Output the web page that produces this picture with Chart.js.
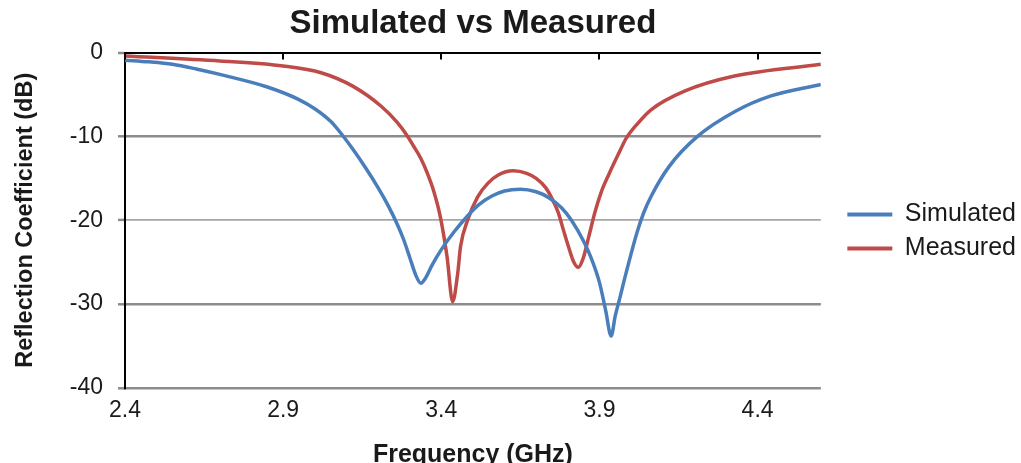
<!DOCTYPE html>
<html><head><meta charset="utf-8">
<script src="https://cdn.jsdelivr.net/npm/chart.js@4.4.0/dist/chart.umd.min.js"></script>
<style>html,body{margin:0;padding:0;background:#fff;}#wrap{width:1021px;height:463px;}</style>
</head><body><div id="wrap"><canvas id="c" width="1021" height="463"></canvas></div>
<script>
const seriesNames = ['Simulated', 'Measured'];
const simFreq = [2.40, 2.475, 2.55, 2.625, 2.70, 2.85, 2.95, 3.00, 3.05, 3.08, 3.12, 3.16, 3.20, 3.23, 3.26, 3.28, 3.30, 3.32, 3.335, 3.35, 3.37, 3.40, 3.44, 3.48, 3.52, 3.56, 3.60, 3.65, 3.70, 3.74, 3.78, 3.81, 3.85, 3.875, 3.90, 3.92, 3.937, 3.95, 3.965, 3.98, 4.00, 4.02, 4.04, 4.064, 4.12, 4.21, 4.33, 4.44, 4.60];
const simDb   = [-0.9, -1.1, -1.4, -1.95, -2.6, -4.1, -5.6, -6.7, -8.2, -9.5, -11.5, -13.7, -16.1, -18.1, -20.4, -22.2, -24.4, -26.6, -27.5, -26.9, -25.4, -23.5, -21.4, -19.6, -18.1, -17.1, -16.5, -16.3, -16.6, -17.3, -18.5, -19.9, -22.5, -24.6, -27.4, -30.8, -33.8, -31.4, -29.2, -26.9, -24.0, -21.3, -19.1, -17.1, -13.6, -10.0, -7.0, -5.2, -3.8];
const measFreq = [2.40, 2.70, 2.90, 3.02, 3.12, 3.21, 3.26, 3.29, 3.31, 3.335, 3.355, 3.375, 3.397, 3.418, 3.436, 3.452, 3.461, 3.484, 3.515, 3.547, 3.58, 3.627, 3.67, 3.70, 3.73, 3.75, 3.769, 3.788, 3.801, 3.818, 3.833, 3.848, 3.866, 3.886, 3.906, 3.93, 3.96, 3.985, 4.02, 4.064, 4.169, 4.327, 4.60];
const measDb   = [-0.4, -1.0, -1.6, -2.4, -4.0, -6.4, -8.3, -9.8, -11.0, -12.6, -14.3, -16.4, -19.6, -24.3, -29.7, -26.3, -23.1, -19.9, -17.2, -15.6, -14.6, -14.1, -14.4, -15.0, -16.1, -17.4, -19.0, -21.4, -23.0, -24.9, -25.6, -24.6, -22.0, -19.0, -16.6, -14.5, -12.1, -10.2, -8.5, -6.8, -4.6, -2.8, -1.4];
const xTickValues = [2.4, 2.9, 3.4, 3.9, 4.4];
const xTickLabels = ['2.4', '2.9', '3.4', '3.9', '4.4'];
const yTickValues = [-40, -30, -20, -10, 0];
const yTickLabels = ['-40', '-30', '-20', '-10', '0'];

const FONT = "'Liberation Sans', Arial, sans-serif";
const toPts = (xs, ys) => xs.map((x, i) => ({x: x, y: ys[i]}));

const topTicks = {
  id: 'topTicks',
  afterDraw(chart) {
    const ctx = chart.ctx, xs = chart.scales.x, top = chart.chartArea.top;
    ctx.save();
    ctx.strokeStyle = '#000';
    ctx.lineWidth = 2;
    xTickValues.forEach(v => {
      const px = Math.round(xs.getPixelForValue(v));
      ctx.beginPath();
      ctx.moveTo(px, top);
      ctx.lineTo(px, top + 7);
      ctx.stroke();
    });
    ctx.restore();
  }
};

new Chart(document.getElementById('c'), {
  type: 'line',
  data: {
    datasets: [
      {label: seriesNames[0], data: toPts(simFreq, simDb), borderColor: '#4a7ebb', backgroundColor: '#4a7ebb', borderWidth: 3.5, pointRadius: 0, cubicInterpolationMode: 'monotone', fill: false},
      {label: seriesNames[1], data: toPts(measFreq, measDb), borderColor: '#be4b48', backgroundColor: '#be4b48', borderWidth: 3.5, pointRadius: 0, cubicInterpolationMode: 'monotone', fill: false}
    ]
  },
  options: {
    responsive: false,
    animation: false,
    layout: {padding: {left: 0, right: -5, top: 0, bottom: 0}},
    plugins: {
      title: {display: true, text: 'Simulated vs Measured', fullSize: false, color: '#1a1a1a', font: {family: FONT, size: 33, weight: 'bold', lineHeight: 1.2}, padding: {top: 4, bottom: 9}},
      legend: {
        position: 'right',
        maxWidth: 260,
        labels: {usePointStyle: true, pointStyle: 'line', pointStyleWidth: 45, boxHeight: 25, padding: 9, color: '#1a1a1a', font: {family: FONT, size: 25},
          generateLabels(chart) {
            return chart.data.datasets.map((d, i) => ({text: d.label, strokeStyle: d.borderColor, fillStyle: d.borderColor, lineWidth: 4, pointStyle: 'line', datasetIndex: i, hidden: false, fontColor: '#1a1a1a'}));
          }
        }
      },
      tooltip: {enabled: false}
    },
    scales: {
      x: {
        type: 'linear', min: 2.4, max: 4.6,
        afterBuildTicks: s => { s.ticks = xTickValues.map(v => ({value: v})); },
        afterFit: s => { s.height = 75; },
        grid: {display: false},
        border: {display: false},
        ticks: {padding: 1, color: '#1a1a1a', font: {family: FONT, size: 23}, maxRotation: 0, autoSkip: false,
          callback: (v) => { const i = xTickValues.indexOf(v); return i >= 0 ? xTickLabels[i] : ''; }},
        title: {display: true, text: 'Frequency (GHz)', color: '#1a1a1a', font: {family: FONT, size: 25, weight: 'bold', lineHeight: 1.2}, padding: {top: 0, bottom: -7}}
      },
      y: {
        type: 'linear', min: -40, max: 0,
        afterBuildTicks: s => { s.ticks = yTickValues.map(v => ({value: v})); },
        afterFit: s => { s.width = 125; },
        grid: {
          color: c => c.tick && c.tick.value === 0 ? '#000000' : (c.tick && c.tick.value === -20 ? '#a6a6a6' : '#8c8c8c'),
          lineWidth: c => c.tick && c.tick.value === 0 ? 2 : (c.tick && c.tick.value === -20 ? 1.8 : 2.6),
          tickColor: '#8c8c8c', tickWidth: 2.5, tickLength: 7, drawTicks: true
        },
        border: {display: true, color: '#000000', width: 2},
        ticks: {padding: 15, color: '#1a1a1a', font: {family: FONT, size: 23},
          callback: (v) => { const i = yTickValues.indexOf(v); return i >= 0 ? yTickLabels[i] : ''; }},
        title: {display: true, text: 'Reflection Coefficient (dB)', color: '#1a1a1a', font: {family: FONT, size: 23.5, weight: 'bold', lineHeight: 1.2}, padding: {top: 11, bottom: 0}}
      },
      spacer: {
        type: 'linear', position: 'right', display: true,
        afterFit: s => { s.width = 17.5; },
        grid: {display: false, drawTicks: false},
        border: {display: false},
        ticks: {display: false}
      }
    }
  },
  plugins: [topTicks]
});
</script>
</body></html>
